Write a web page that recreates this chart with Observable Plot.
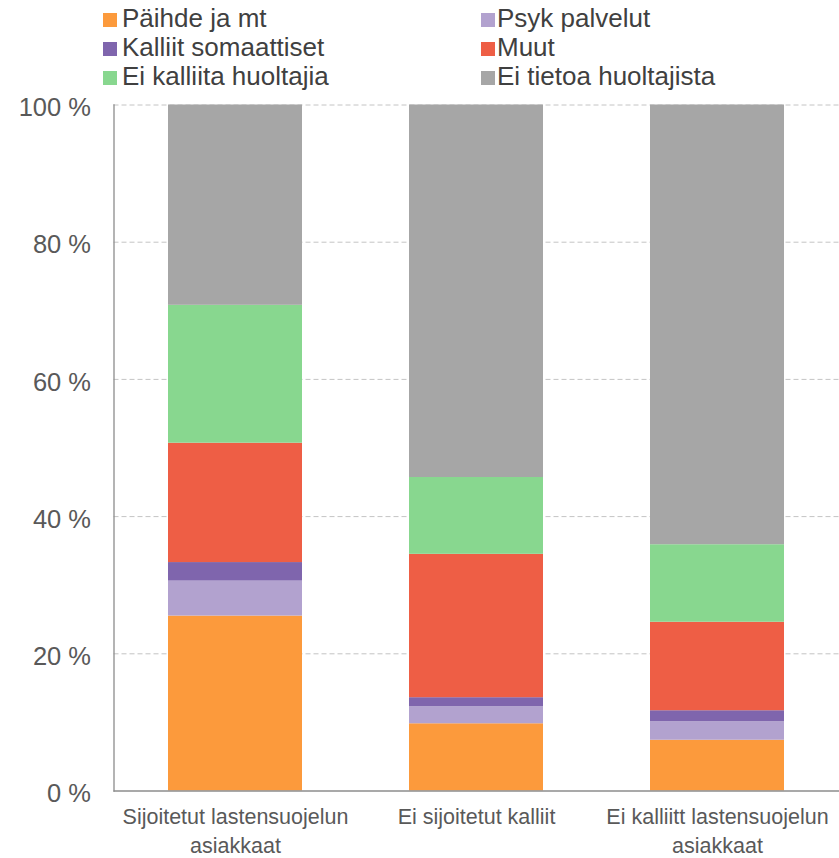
<!DOCTYPE html>
<html>
<head>
<meta charset="utf-8">
<script src="https://cdn.jsdelivr.net/npm/d3@7"></script>
<script src="https://cdn.jsdelivr.net/npm/@observablehq/plot@0.6"></script>
<style>
  body { margin: 0; background: #fff; font-family: "Liberation Sans", Arial, sans-serif; }
  #legend { position: relative; width: 839px; height: 90px; }
  .item { position: absolute; font-size: 26px; line-height: 29px; color: #404040; white-space: nowrap; }
  .sw { position: absolute; width: 14px; height: 14px; }
</style>
</head>
<body>
<div id="legend"></div>
<div id="chart"></div>
<script>
// Groups on the x axis
const categories = ["Sijoitetut lastensuojelun asiakkaat", "Ei sijoitetut kalliit", "Ei kalliitt lastensuojelun asiakkaat"];
const categoryLabels = ["Sijoitetut lastensuojelun\nasiakkaat", "Ei sijoitetut kalliit", "Ei kalliitt lastensuojelun\nasiakkaat"];

// Stack segments, bottom to top
const series = ["Päihde ja mt", "Psyk palvelut", "Kalliit somaattiset", "Muut", "Ei kalliita huoltajia", "Ei tietoa huoltajista"];
const colors = ["#FC9A3C", "#B2A2CF", "#7F65AD", "#EE5E45", "#88D78F", "#A6A6A6"];

// Shares (%) per group, in the order of categories
const paihdeJaMt = [25.5, 9.8, 7.4];
const psykPalvelut = [5.1, 2.5, 2.7];
const kalliitSomaattiset = [2.7, 1.3, 1.6];
const muut = [17.4, 20.9, 12.9];
const eiKalliitaHuoltajia = [20.1, 11.2, 11.3];
const eiTietoaHuoltajista = [29.2, 54.3, 64.1];

const yTicks = [0, 20, 40, 60, 80, 100];

const seriesValues = [paihdeJaMt, psykPalvelut, kalliitSomaattiset, muut, eiKalliitaHuoltajia, eiTietoaHuoltajista];
const rows = [];
categories.forEach((c, i) => {
  series.forEach((s, j) => rows.push({category: c, series: s, value: seriesValues[j][i]}));
});

// Legend: two columns, filled row by row
const legend = document.getElementById("legend");
series.forEach((s, i) => {
  const col = i % 2, row = Math.floor(i / 2);
  const sw = document.createElement("div");
  sw.className = "sw";
  sw.style.left = (col ? 481 : 103) + "px";
  sw.style.top = (13 + row * 29) + "px";
  sw.style.background = colors[i];
  legend.appendChild(sw);
  const t = document.createElement("div");
  t.className = "item";
  t.style.left = (col ? 497 : 122) + "px";
  t.style.top = (4 + row * 29) + "px";
  t.textContent = s;
  legend.appendChild(t);
});

const chart = Plot.plot({
  width: 839,
  height: 768,
  marginLeft: 113.5,
  marginRight: 0,
  marginTop: 14.5,
  marginBottom: 67.5,
  style: {fontFamily: '"Liberation Sans", Arial, sans-serif', background: "white", overflow: "visible"},
  x: {domain: categories, paddingInner: 0.442, paddingOuter: 0.221, label: null},
  y: {domain: [0, 100], label: null},
  color: {domain: series, range: colors},
  marks: [
    Plot.ruleY(yTicks.filter(t => t > 0), {stroke: "#c4c4c4", strokeDasharray: "5,3", strokeWidth: 1}),
    Plot.barY(rows, {x: "category", y: "value", fill: "series", order: series}),
    Plot.frame({anchor: "left", stroke: "#8c8c8c", strokeWidth: 1.3}),
    Plot.ruleY([0], {stroke: "#8c8c8c", strokeWidth: 1.6}),
    Plot.axisY({ticks: yTicks, tickFormat: d => d + " %", tickSize: 0, tickPadding: 23, fontSize: 25.5, fill: "#595959", dy: 3, label: null}),
    Plot.axisX({tickSize: 0, tickPadding: 12, tickFormat: d => categoryLabels[categories.indexOf(d)], fontSize: 21.5, lineHeight: 1.37, fill: "#595959", label: null})
  ]
});
document.getElementById("chart").appendChild(chart);
</script>
</body>
</html>
